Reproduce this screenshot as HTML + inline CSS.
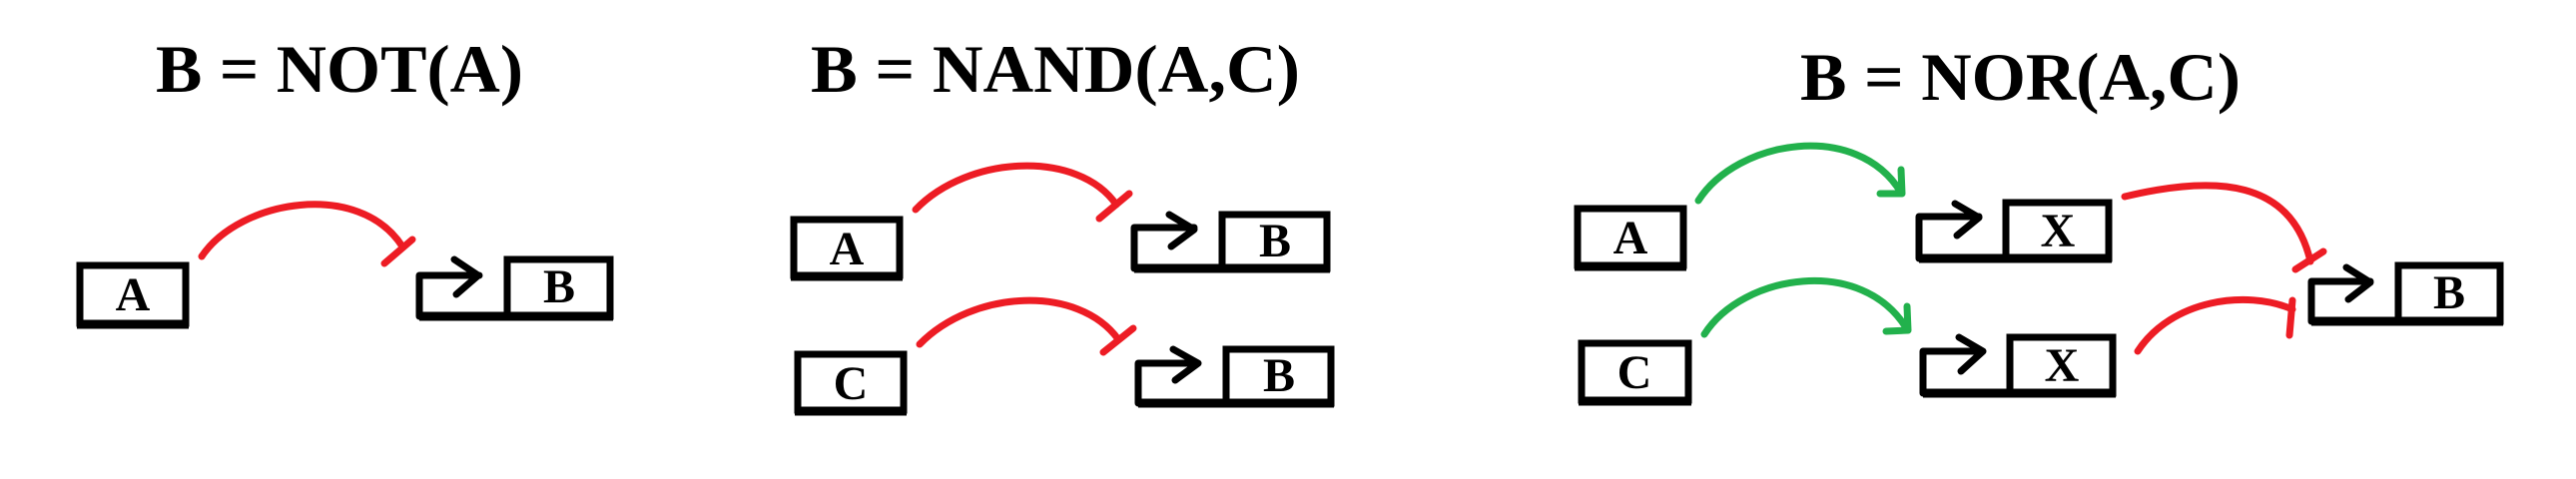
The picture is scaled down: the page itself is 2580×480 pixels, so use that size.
<!DOCTYPE html>
<html><head><meta charset="utf-8"><style>
html,body{margin:0;padding:0;background:#fff;}
svg{display:block;}
text{font-family:"Liberation Serif",serif;font-weight:bold;fill:#000;}
</style></head><body>
<svg width="2580" height="480" viewBox="0 0 2580 480" xmlns="http://www.w3.org/2000/svg">
<g font-size="68">
<text x="156" y="92" textLength="368" lengthAdjust="spacingAndGlyphs">B = NOT(A)</text>
<text x="812" y="92" textLength="490" lengthAdjust="spacingAndGlyphs">B = NAND(A,C)</text>
<text x="1803" y="100" textLength="441" lengthAdjust="spacingAndGlyphs">B = NOR(A,C)</text>
</g>
<g fill="none" stroke="#000" stroke-width="7" stroke-linejoin="miter">
<!-- NOT -->
<rect x="80" y="266" width="106" height="58"/>
<line x1="77" y1="325" x2="189" y2="325" stroke-width="9"/>
<path d="M420,317 L420,276 L480,276 M455,260 L479,276 L457,295" stroke-linecap="round" stroke-linejoin="round"/>
<rect x="508" y="260" width="103" height="57"/>
<line x1="420" y1="317" x2="614" y2="317" stroke-width="9"/>
<!-- NAND -->
<rect x="795" y="220" width="106" height="56"/>
<line x1="792" y1="277" x2="904" y2="277" stroke-width="9"/>
<rect x="799" y="355" width="106" height="56"/>
<line x1="796" y1="412" x2="908" y2="412" stroke-width="9"/>
<path d="M1136,269 L1136,228 L1196,228 M1171,215 L1196,230 L1173,247" stroke-linecap="round" stroke-linejoin="round"/>
<rect x="1224" y="215" width="105" height="54"/>
<line x1="1136" y1="269" x2="1332" y2="269" stroke-width="9"/>
<path d="M1140,404 L1140,364 L1200,364 M1175,350 L1200,364 L1177,381" stroke-linecap="round" stroke-linejoin="round"/>
<rect x="1228" y="350" width="105" height="54"/>
<line x1="1140" y1="404" x2="1336" y2="404" stroke-width="9"/>
<!-- NOR -->
<rect x="1580" y="209" width="106" height="57"/>
<line x1="1577" y1="267" x2="1689" y2="267" stroke-width="9"/>
<rect x="1584" y="344" width="107" height="57"/>
<line x1="1581" y1="402" x2="1694" y2="402" stroke-width="9"/>
<path d="M1922,259 L1922,217 L1982,217 M1958,204 L1982,218 L1960,236" stroke-linecap="round" stroke-linejoin="round"/>
<rect x="2009" y="203" width="103" height="56"/>
<line x1="1922" y1="259" x2="2115" y2="259" stroke-width="9"/>
<path d="M1926,394 L1926,352 L1986,352 M1962,338 L1986,352 L1964,372" stroke-linecap="round" stroke-linejoin="round"/>
<rect x="2013" y="338" width="103" height="56"/>
<line x1="1926" y1="394" x2="2119" y2="394" stroke-width="9"/>
<path d="M2315,322 L2315,282 L2374,282 M2350,268 L2374,283 L2352,300" stroke-linecap="round" stroke-linejoin="round"/>
<rect x="2402" y="266" width="102" height="56"/>
<line x1="2315" y1="322" x2="2507" y2="322" stroke-width="9"/>
</g>
<g font-size="48" text-anchor="middle">
<text x="133" y="311">A</text>
<text x="560" y="303">B</text>
<text x="848" y="265">A</text>
<text x="852" y="400">C</text>
<text x="1277" y="257">B</text>
<text x="1281" y="392">B</text>
<text x="1633" y="254">A</text>
<text x="1637" y="389">C</text>
<text x="2061" y="247">X</text>
<text x="2065" y="382">X</text>
<text x="2453" y="309">B</text>
</g>
<g fill="none" stroke="#ed1c24" stroke-width="7" stroke-linecap="round">
<path d="M202,257 C240,200 360,180 403,247"/>
<path d="M385,264 L413,240"/>
<path d="M917,210 C970,155 1080,150 1118,205"/>
<path d="M1101,219 L1131,194"/>
<path d="M921,345 C975,290 1080,285 1120,340"/>
<path d="M1105,353 L1135,329"/>
<path d="M2128,197 C2220,175 2295,180 2314,262"/>
<path d="M2299,270 L2327,252"/>
<path d="M2141,352 C2175,300 2250,290 2296,310"/>
<path d="M2296,301 L2293,336"/>
</g>
<g fill="none" stroke="#22b14c" stroke-width="7" stroke-linecap="round">
<path d="M1701,201 C1740,140 1860,120 1904,193"/>
<path d="M1883,194 L1905,194 L1904,170" stroke-linejoin="round"/>
<path d="M1707,335 C1745,275 1865,255 1910,330"/>
<path d="M1889,332 L1911,331 L1910,307" stroke-linejoin="round"/>
</g>
</svg>
</body></html>
